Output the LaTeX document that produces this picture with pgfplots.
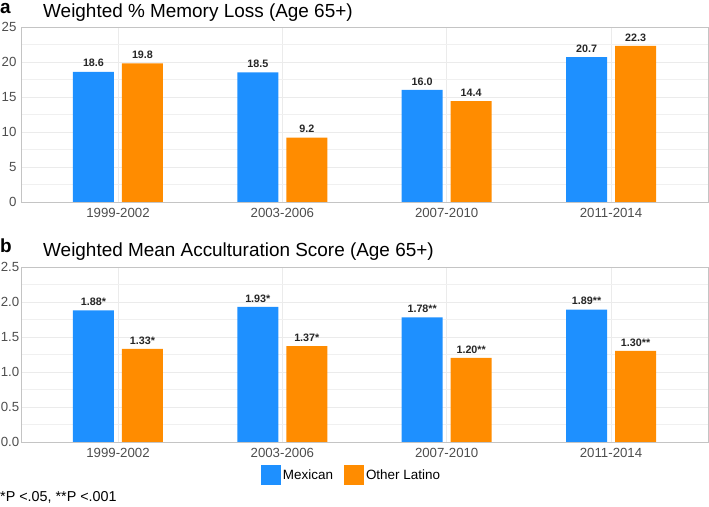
\documentclass[border=0pt]{standalone}
\usepackage{fontspec}
\setmainfont{Liberation Sans}
\usepackage{pgfplots}
\pgfplotsset{compat=1.18}
\usepackage{pgfplotstable}
\definecolor{mex}{HTML}{1E90FF}
\definecolor{oth}{HTML}{FF8C00}
\definecolor{gridc}{HTML}{EBEBEB}
\definecolor{framec}{HTML}{C4C4C4}
\definecolor{tickc}{HTML}{4D4D4D}

\pgfplotstableread{
x m ml o ol
0 18.6 18.6 19.8 19.8
1 18.5 18.5 9.2 9.2
2 16.0 16.0 14.4 14.4
3 20.7 20.7 22.3 22.3
}\dataA
\pgfplotstableread{
x m ml o ol
0 1.88 1.88* 1.33 1.33*
1 1.93 1.93* 1.37 1.37*
2 1.78 1.78** 1.20 1.20**
3 1.89 1.89** 1.30 1.30**
}\dataB

\pgfplotsset{
 mystyle/.style={
  scale only axis, width=687bp, height=175bp,
  xmin=-0.59, xmax=3.59, ymin=0,
  xtick={0,1,2,3}, xticklabels={1999-2002,2003-2006,2007-2010,2011-2014},
  major tick length=0pt, minor tick length=0pt,
  axis line style={framec, line width=0.8bp},
  grid=both, minor y tick num=1,
  major grid style={gridc, line width=0.7bp},
  minor grid style={gridc!75, line width=0.6bp},
  ybar=8bp, bar width=41bp,
  tick label style={font=\fontsize{13.3}{15}\selectfont, text=tickc},
  xticklabel style={yshift=-3bp},
  yticklabel style={xshift=-1bp},
  /pgf/number format/assume math mode=true,
  nodes near coords, point meta=explicit symbolic,
  nodes near coords style={font=\bfseries\fontsize{10.8}{12}\selectfont, text=black!85, inner sep=2bp, yshift=2.5bp},
  axis on top=false,
 }
}

\begin{document}
\begin{tikzpicture}[x=1bp,y=1bp]
\useasboundingbox (0,0) rectangle (709,507);
\node[anchor=base west, font=\bfseries\fontsize{19}{22}\selectfont, inner sep=0pt] at (0,493) {a};
\node[anchor=base west, font=\fontsize{19}{22}\selectfont, inner sep=0pt] at (43,489.5) {Weighted \% Memory Loss (Age 65+)};
\begin{axis}[mystyle, at={(21bp,305bp)}, anchor=south west,
  ymax=25, ytick={0,5,10,15,20,25}]
\addplot[fill=mex, draw=none] table[x=x, y=m, meta=ml] {\dataA};
\addplot[fill=oth, draw=none] table[x=x, y=o, meta=ol] {\dataA};
\end{axis}

\node[anchor=base west, font=\bfseries\fontsize{19}{22}\selectfont, inner sep=0pt] at (0,254) {b};
\node[anchor=base west, font=\fontsize{19}{22}\selectfont, inner sep=0pt] at (43,250) {Weighted Mean Acculturation Score (Age 65+)};
\begin{axis}[mystyle, at={(21bp,65bp)}, anchor=south west,
  ymax=2.5, ytick={0,0.5,1,1.5,2,2.5},
  yticklabel style={inner sep=0.5bp, xshift=0bp, /pgf/number format/.cd, fixed, fixed zerofill, precision=1},
  legend style={at={(axis description cs:0.349,-0.189)}, anchor=west, draw=none, fill=none,
    inner sep=0pt, font=\fontsize{13.5}{15}\selectfont, legend columns=2,
    /tikz/every even column/.append style={column sep=9bp}},
  legend image code/.code={\fill[#1] (0bp,-10bp) rectangle (20bp,10bp);}]
\addplot[fill=mex, draw=none] table[x=x, y=m, meta=ml] {\dataB};
\addlegendentry{Mexican}
\addplot[fill=oth, draw=none] table[x=x, y=o, meta=ol] {\dataB};
\addlegendentry{Other Latino}
\end{axis}
\node[anchor=base west, font=\fontsize{14.4}{16}\selectfont, inner sep=0pt] at (0,5) {*P <.05, **P <.001};
\end{tikzpicture}
\end{document}
